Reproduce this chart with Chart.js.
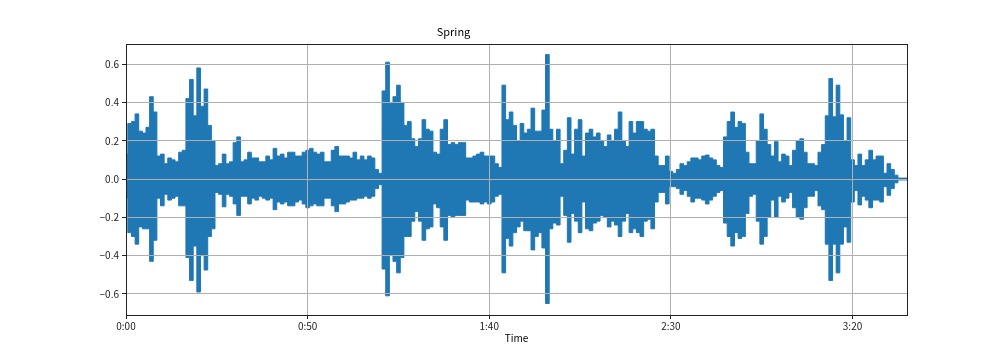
<!DOCTYPE html>
<html>
<head>
<meta charset="utf-8">
<title>Spring</title>
<script src="https://cdn.jsdelivr.net/npm/chart.js@4.4.1/dist/chart.umd.min.js"></script>
<style>
    html, body { margin: 0; padding: 0; background: #fff; }
    #wrap { width: 1008px; height: 360px; }
</style>
</head>
<body>
<div id="wrap"><canvas id="waveChart" width="1008" height="360"></canvas></div>
<script>
// ---- Waveform envelope, one bin per second (0..215 s) ----
const binSeconds = 1;

const upperEnv = [
    0.13, 0.29, 0.30, 0.34, 0.25, 0.24, 0.27, 0.43, 0.35, 0.12,
    0.13, 0.08, 0.11, 0.10, 0.09, 0.14, 0.15, 0.42, 0.52, 0.33,
    0.58, 0.38, 0.47, 0.28, 0.20, 0.07, 0.08, 0.13, 0.08, 0.09,
    0.19, 0.22, 0.09, 0.10, 0.14, 0.11,
    0.11, 0.09, 0.09, 0.12, 0.10, 0.16, 0.12, 0.13, 0.11, 0.14,
    0.14, 0.12, 0.12, 0.14, 0.15, 0.16, 0.14, 0.13, 0.14, 0.09,
    0.09, 0.15, 0.17, 0.12, 0.12, 0.12, 0.11, 0.14, 0.10, 0.12,
    0.10, 0.12, 0.11, 0.05, 0.03,
    0.46, 0.61, 0.40, 0.43, 0.49, 0.40, 0.28, 0.30, 0.21, 0.17,
    0.21, 0.31, 0.26, 0.25, 0.14, 0.13, 0.26, 0.31, 0.18, 0.19,
    0.18, 0.19, 0.19, 0.11, 0.11, 0.12, 0.13, 0.14, 0.12, 0.12,
    0.12, 0.08, 0.06, 0.49, 0.31,
    0.35, 0.28, 0.20, 0.29, 0.24, 0.26, 0.37, 0.25, 0.25, 0.36,
    0.65, 0.26, 0.20, 0.26, 0.08, 0.15, 0.32, 0.13, 0.26, 0.31,
    0.12, 0.24, 0.26, 0.22, 0.24, 0.20, 0.17, 0.23, 0.20, 0.26,
    0.35, 0.20, 0.17, 0.30, 0.24, 0.30,
    0.30, 0.26, 0.25, 0.26, 0.12, 0.07, 0.07, 0.12, 0.04, 0.03,
    0.05, 0.08, 0.07, 0.09, 0.11, 0.11, 0.10, 0.12, 0.125, 0.11,
    0.10, 0.07, 0.06, 0.22, 0.30, 0.35, 0.27, 0.30, 0.29, 0.14,
    0.08, 0.08, 0.20, 0.34, 0.26, 0.18,
    0.12, 0.195, 0.09, 0.13, 0.12, 0.07, 0.15, 0.20, 0.21, 0.14,
    0.08, 0.08, 0.07, 0.14, 0.18, 0.33, 0.525, 0.325, 0.49, 0.335,
    0.20, 0.32, 0.10, 0.07, 0.13, 0.07, 0.10, 0.15, 0.10, 0.12,
    0.12, 0.03, 0.08, 0.05, 0.02, 0.005, 0.005, 0.005
];

const lowerEnv = [
    -0.10, -0.28, -0.30, -0.34, -0.25, -0.26, -0.26, -0.43, -0.32, -0.10,
    -0.14, -0.08, -0.11, -0.10, -0.09, -0.14, -0.14, -0.41, -0.53, -0.35,
    -0.59, -0.40, -0.475, -0.30, -0.26, -0.07, -0.08, -0.145, -0.08, -0.09,
    -0.13, -0.19, -0.09, -0.09, -0.13, -0.10,
    -0.11, -0.09, -0.10, -0.11, -0.10, -0.16, -0.12, -0.13, -0.12, -0.14,
    -0.14, -0.12, -0.11, -0.13, -0.15, -0.14, -0.13, -0.14, -0.14, -0.10,
    -0.10, -0.14, -0.17, -0.13, -0.13, -0.12, -0.11, -0.11, -0.10, -0.10,
    -0.09, -0.10, -0.09, -0.05, -0.03,
    -0.47, -0.61, -0.40, -0.43, -0.49, -0.41, -0.30, -0.30, -0.22, -0.17,
    -0.22, -0.32, -0.26, -0.25, -0.13, -0.15, -0.25, -0.32, -0.19, -0.20,
    -0.19, -0.19, -0.19, -0.11, -0.12, -0.12, -0.12, -0.13, -0.12, -0.13,
    -0.12, -0.09, -0.08, -0.49, -0.31,
    -0.35, -0.28, -0.25, -0.22, -0.27, -0.27, -0.37, -0.30, -0.28, -0.36,
    -0.65, -0.26, -0.23, -0.24, -0.09, -0.19, -0.33, -0.18, -0.22, -0.28,
    -0.12, -0.26, -0.27, -0.23, -0.22, -0.19, -0.20, -0.25, -0.22, -0.24,
    -0.30, -0.22, -0.18, -0.28, -0.26, -0.28,
    -0.30, -0.22, -0.21, -0.26, -0.12, -0.07, -0.07, -0.13, -0.04, -0.04,
    -0.05, -0.08, -0.06, -0.09, -0.12, -0.10, -0.10, -0.11, -0.13, -0.11,
    -0.09, -0.07, -0.06, -0.23, -0.30, -0.35, -0.28, -0.31, -0.30, -0.18,
    -0.09, -0.08, -0.22, -0.34, -0.30, -0.20,
    -0.11, -0.20, -0.09, -0.12, -0.10, -0.07, -0.15, -0.20, -0.21, -0.15,
    -0.09, -0.09, -0.06, -0.14, -0.16, -0.34, -0.53, -0.34, -0.49, -0.34,
    -0.25, -0.33, -0.12, -0.06, -0.135, -0.09, -0.11, -0.15, -0.11, -0.11,
    -0.12, -0.04, -0.085, -0.05, -0.02, -0.005, -0.005, -0.005
];

// ---- Axis ticks ----
const xTickValues = [0, 50, 100, 150, 200];
const xTickLabels = ['0:00', '0:50', '1:40', '2:30', '3:20'];
const yTickValues = [-0.6, -0.4, -0.2, 0, 0.2, 0.4, 0.6];
const yTickLabels = ['\u22120.6', '\u22120.4', '\u22120.2', '0.0', '0.2', '0.4', '0.6'];

const FONT = '"Noto Sans CJK JP", "Noto Sans", "DejaVu Sans", sans-serif';
const WAVE_BLUE = '#1f77b4';

function toPoints(values) {
    return values.map((v, i) => ({ x: i * binSeconds, y: v }));
}

// ---- Frame (all four spines) ----
const framePlugin = {
    id: 'frame',
    afterDraw(chart) {
        const { ctx, chartArea: a } = chart;
        ctx.save();
        ctx.strokeStyle = '#222';
        ctx.lineWidth = 1;
        ctx.strokeRect(Math.round(a.left) + 0.5, Math.round(a.top) + 0.5,
            Math.round(a.right - a.left), Math.round(a.bottom - a.top));
        ctx.restore();
    }
};

function waveDataset(values) {
    return {
        data: toPoints(values),
        borderColor: WAVE_BLUE,
        backgroundColor: WAVE_BLUE,
        borderWidth: 1,
        fill: 'origin',
        pointRadius: 0,
        stepped: 'middle'
    };
}

function initWaveChart() {
    const ctx = document.getElementById('waveChart');

    new Chart(ctx, {
        type: 'line',
        data: {
            datasets: [waveDataset(upperEnv), waveDataset(lowerEnv)]
        },
        options: {
            responsive: false,
            animation: false,
            layout: { padding: { left: 0, right: 101, top: 0, bottom: 0 } },
            plugins: {
                legend: { display: false },
                tooltip: { enabled: false },
                title: {
                    display: true,
                    text: 'Spring',
                    color: '#000',
                    font: { family: FONT, size: 11, weight: 'normal' },
                    padding: { top: 25, bottom: 5.8 }
                }
            },
            scales: {
                x: {
                    type: 'linear',
                    min: 0,
                    max: 215,
                    afterBuildTicks: s => { s.ticks = xTickValues.map(v => ({ value: v })); },
                    afterFit: s => { s.height = 45; },
                    ticks: {
                        autoSkip: false,
                        maxRotation: 0,
                        color: '#222',
                        padding: 1,
                        font: { family: FONT, size: 10 },
                        callback: v => xTickLabels[xTickValues.indexOf(v)]
                    },
                    grid: { color: '#b0b0b0', lineWidth: 1, z: 1, tickColor: '#222', tickLength: 4 },
                    border: { color: '#222', z: 2 },
                    title: {
                        display: true,
                        text: 'Time',
                        color: '#000',
                        font: { family: FONT, size: 10 },
                        padding: { top: 0, bottom: 16 }
                    }
                },
                y: {
                    min: -0.71,
                    max: 0.705,
                    afterBuildTicks: s => { s.ticks = yTickValues.map(v => ({ value: v })); },
                    afterFit: s => { s.width = 126; },
                    ticks: {
                        color: '#222',
                        padding: 3,
                        font: { family: FONT, size: 10 },
                        callback: v => yTickLabels[yTickValues.indexOf(v)]
                    },
                    grid: { color: '#b0b0b0', lineWidth: 1, z: 1, tickColor: '#222', tickLength: 4 },
                    border: { color: '#222', z: 2 }
                }
            }
        },
        plugins: [framePlugin]
    });
}

document.addEventListener('DOMContentLoaded', initWaveChart);
</script>
</body>
</html>
